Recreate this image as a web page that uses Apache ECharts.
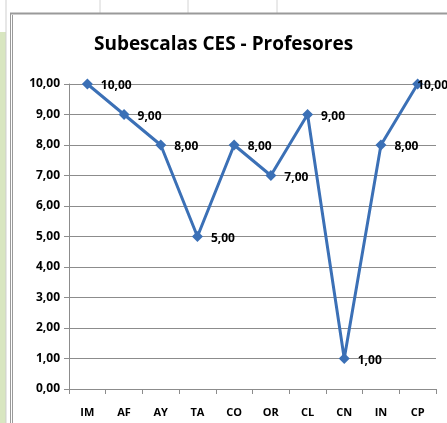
<!DOCTYPE html>
<html><head><meta charset="utf-8">
<script src="https://cdn.jsdelivr.net/npm/echarts@6/dist/echarts.min.js"></script>
<style>html,body{margin:0;padding:0;background:#fff}#c{width:447px;height:423px}</style>
</head><body><div id="c"></div>
<script>
const titleText = 'Subescalas CES - Profesores';
const categories = ['IM','AF','AY','TA','CO','OR','CL','CN','IN','CP'];
const values = [10, 9, 8, 5, 8, 7, 9, 1, 8, 10];
const fontFam = '"Liberation Sans Narrow", "Open Sans", sans-serif';
const fmt = v => v.toFixed(2).replace('.', ',');
const seriesData = values.map((v, i) => i === values.length - 1
  ? { value: v, label: { offset: [-14, 2] } }
  : v);
const chart = echarts.init(document.getElementById('c'));
chart.setOption({
  backgroundColor: '#fff',
  animation: false,
  title: { text: titleText, left: 'center', top: 30,
    textStyle: { fontFamily: fontFam, fontWeight: 'bold', fontSize: 19, color: '#000' } },
  grid: { left: 69, right: 11, top: 84, bottom: 34 },
  xAxis: { type: 'category', data: categories, boundaryGap: true,
    axisLine: { lineStyle: { color: '#8c8c8c', width: 1 } },
    axisTick: { show: true, length: 5, lineStyle: { color: '#8c8c8c' } },
    axisLabel: { margin: 18, fontFamily: fontFam, fontWeight: 'bold', fontSize: 11, color: '#000' } },
  yAxis: { type: 'value', min: 0, max: 10, interval: 1,
    axisLine: { show: true, lineStyle: { color: '#8c8c8c' } },
    axisTick: { show: true, length: 5, inside: false, lineStyle: { color: '#8c8c8c' } },
    splitLine: { lineStyle: { color: '#8c8c8c', width: 1 } },
    axisLabel: { margin: 9, fontFamily: fontFam, fontWeight: 'bold', fontSize: 12, color: '#000',
      formatter: v => fmt(v) } },
  series: [{ type: 'line', data: seriesData, symbol: 'diamond', symbolSize: 11,
    lineStyle: { color: '#3b70b6', width: 3 },
    itemStyle: { color: '#3b70b6' },
    label: { show: true, position: 'right', distance: 8, offset: [0, 2],
      fontFamily: fontFam, fontWeight: 'bold', fontSize: 12, color: '#000',
      formatter: p => fmt(p.value) } }],
  graphic: [
    { type: 'rect', shape: { x: 0, y: 32, width: 6, height: 391 }, style: { fill: '#d8e6c0' } },
    { type: 'line', shape: { x1: 6, y1: 0, x2: 6, y2: 423 }, style: { stroke: '#cfcfcf', lineWidth: 1 } },
    { type: 'line', shape: { x1: 100, y1: 0, x2: 100, y2: 13 }, style: { stroke: '#d4d4d4', lineWidth: 1 } },
    { type: 'line', shape: { x1: 188, y1: 0, x2: 188, y2: 13 }, style: { stroke: '#d4d4d4', lineWidth: 1 } },
    { type: 'line', shape: { x1: 277, y1: 0, x2: 277, y2: 13 }, style: { stroke: '#d4d4d4', lineWidth: 1 } },
    { type: 'line', shape: { x1: 10, y1: 13.5, x2: 447, y2: 13.5 }, style: { stroke: '#9a9a9a', lineWidth: 2 } },
    { type: 'line', shape: { x1: 10.5, y1: 13, x2: 10.5, y2: 423 }, style: { stroke: '#9a9a9a', lineWidth: 1 } },
    { type: 'line', shape: { x1: 12.5, y1: 15, x2: 12.5, y2: 423 }, style: { stroke: '#9a9a9a', lineWidth: 1 } }
  ]
});
</script></body></html>
